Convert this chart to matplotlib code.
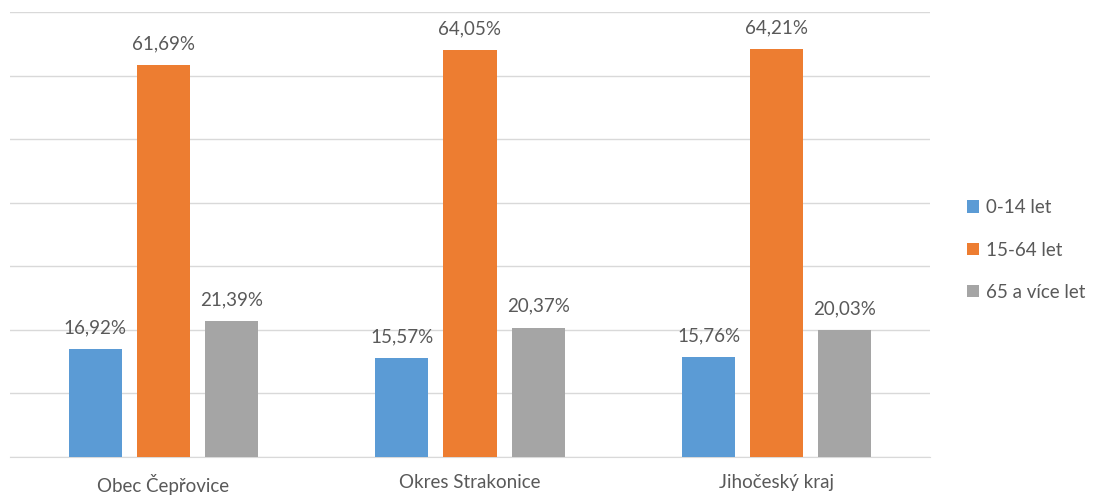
import matplotlib
matplotlib.use("Agg")
import matplotlib.pyplot as plt
import numpy as np
from matplotlib.patches import Patch

plt.rcParams['font.family'] = ['Lato', 'DejaVu Sans']

categories = ["Obec Čepřovice", "Okres Strakonice", "Jihočeský kraj"]
series_names = ["0-14 let", "15-64 let", "65 a více let"]
v_0_14 = [16.92, 15.57, 15.76]
v_15_64 = [61.69, 64.05, 64.21]
v_65 = [21.39, 20.37, 20.03]
series = [v_0_14, v_15_64, v_65]
colors = ["#5b9bd5", "#ed7d31", "#a5a5a5"]

fig = plt.figure(figsize=(10.97, 4.95), dpi=100)
ax = fig.add_axes([10/1097, 1-457/495, 920/1097, 445/495])

x = np.arange(len(categories))
width = 0.173
step = 0.222
txt = "#595959"
for i, (vals, c) in enumerate(zip(series, colors)):
    pos = x + (i - 1) * step
    ax.bar(pos, vals, width=width, color=c, zorder=3)
    for p, v in zip(pos, vals):
        ax.text(p, v + 2.0, f"{v:.2f}".replace(".", ",") + "%", ha="center", va="bottom",
                fontsize=13.5, color=txt)

ax.set_xlim(-0.5, 2.5)
ax.set_ylim(0, 70)
ax.set_yticks(np.arange(0, 71, 10))
ax.yaxis.grid(True, color="#d9d9d9", linewidth=1, zorder=0)
ax.set_yticklabels([])
ax.tick_params(axis="y", length=0)
ax.set_xticks(x)
ax.set_xticklabels(categories, fontsize=13.5, color=txt)
ax.tick_params(axis="x", length=0, pad=12)
for s in ["top", "right", "left"]:
    ax.spines[s].set_visible(False)
ax.spines["bottom"].set_color("#d9d9d9")

handles = [Patch(facecolor=c, edgecolor="none") for c in colors]
fig.legend(handles, series_names, loc="center left", bbox_to_anchor=(950/1097, 1-250/495),
           frameon=False, fontsize=13.5, labelcolor=txt, handlelength=0.65, handleheight=0.65,
           handletextpad=0.35, labelspacing=1.35)

fig.savefig("out.png", dpi=100)
